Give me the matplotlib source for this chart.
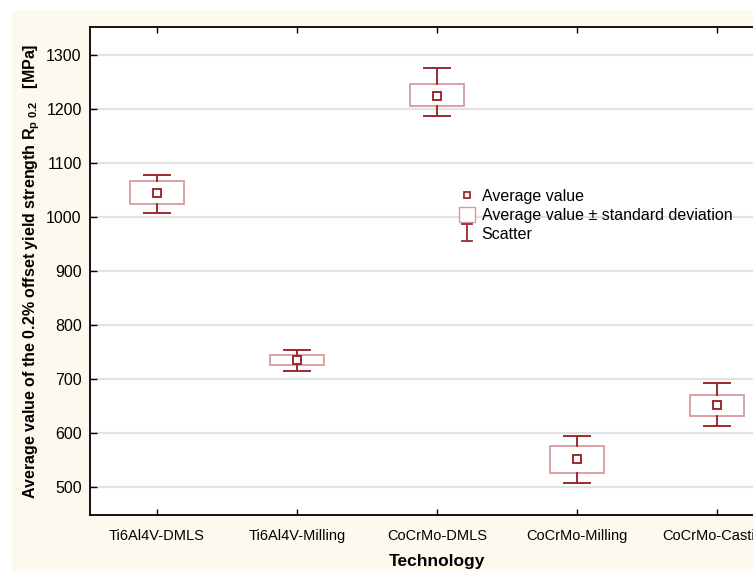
import matplotlib
matplotlib.use("Agg")
import matplotlib.pyplot as plt
from matplotlib.patches import Rectangle
from matplotlib.lines import Line2D
from matplotlib.legend_handler import HandlerBase

# data (MPa)
technologies = ["Ti6Al4V-DMLS", "Ti6Al4V-Milling", "CoCrMo-DMLS", "CoCrMo-Milling", "CoCrMo-Casting"]
mean_vals = [1044, 735, 1225, 551, 651]
sd_low = [1025, 725, 1205, 526, 631]
sd_high = [1067, 745, 1247, 575, 671]
min_vals = [1008, 714, 1188, 508, 613]
max_vals = [1077, 754, 1276, 594, 692]
y_ticks = [500, 600, 700, 800, 900, 1000, 1100, 1200, 1300]

dark_red = "#9c2a30"
light_red = "#d99a9c"
cream = "#fef9ee"

plt.rcParams['font.family'] = ['Liberation Sans', 'DejaVu Sans']
plt.rcParams['mathtext.fontset'] = 'custom'
plt.rcParams['mathtext.rm'] = 'Liberation Sans'
plt.rcParams['mathtext.bf'] = 'Liberation Sans:bold'


class WhiskerHandler(HandlerBase):
    # draws the little "I" symbol used for the scatter entry
    def create_artists(self, legend, orig_handle, xdescent, ydescent, width, height, fontsize, trans):
        cx = width / 2 - xdescent
        top = height + 0.5
        bot = -1.5
        hw = width * 0.3
        arts = [
            Line2D([cx, cx], [bot, top], color=dark_red, lw=1.3),
            Line2D([cx - hw, cx + hw], [top, top], color=dark_red, lw=1.3),
            Line2D([cx - hw, cx + hw], [bot, bot], color=dark_red, lw=1.3),
        ]
        for a in arts:
            a.set_transform(trans)
        return arts


fig = plt.figure(figsize=(7.53, 5.71), dpi=100)
fig.patch.set_facecolor("white")
fig.patches.append(Rectangle((12 / 753, 0), 1, 1 - 10 / 571, transform=fig.transFigure,
                             facecolor=cream, edgecolor="none", zorder=-10))

ax = fig.add_axes([90 / 753, 56 / 571, 694 / 753, 488 / 571])
ax.set_facecolor("white")

box_w = 0.383
cap_w = 0.19
x = list(range(len(technologies)))

for i in x:
    # +- standard deviation box
    ax.add_patch(Rectangle((i - box_w / 2, sd_low[i]), box_w, sd_high[i] - sd_low[i],
                           facecolor="white", edgecolor=light_red, lw=1.3, zorder=3))
    # whiskers (min / max)
    ax.plot([i, i], [sd_high[i], max_vals[i]], color=dark_red, lw=1.4, zorder=3)
    ax.plot([i, i], [min_vals[i], sd_low[i]], color=dark_red, lw=1.4, zorder=3)
    ax.plot([i - cap_w / 2, i + cap_w / 2], [max_vals[i], max_vals[i]], color=dark_red, lw=1.4, zorder=3)
    ax.plot([i - cap_w / 2, i + cap_w / 2], [min_vals[i], min_vals[i]], color=dark_red, lw=1.4, zorder=3)

ax.plot(x, mean_vals, linestyle="none", marker="s", markersize=5.5, markerfacecolor="white",
        markeredgecolor=dark_red, markeredgewidth=1.4, zorder=4)

ax.set_xlim(-0.479, 4.479)
ax.set_ylim(448, 1352)
ax.set_yticks(y_ticks)
ax.set_xticks(x)
ax.set_xticklabels(technologies, fontsize=10.5)
for lab in ax.get_yticklabels():
    lab.set_fontsize(11.5)

ax.grid(axis="y", color="#e2e2e2", lw=1.5)
ax.set_axisbelow(True)
ax.tick_params(axis="x", direction="in", top=True, length=4, width=1, pad=10)
ax.tick_params(axis="y", direction="in", length=5, width=1, pad=6)
for side in ["left", "bottom", "top"]:
    ax.spines[side].set_linewidth(1.3)
ax.spines["right"].set_visible(False)

ax.set_xlabel("Technology", fontsize=12.5, fontweight="bold", labelpad=8)
ax.set_ylabel(r"Average value of the 0.2% offset yield strength R$_{\mathbf{p\ 0.2}}$   [MPa]",
              fontsize=11.5, fontweight="bold", labelpad=3)

h_mean = Line2D([], [], linestyle="none", marker="s", markersize=4.5, markerfacecolor="white",
                markeredgecolor=dark_red, markeredgewidth=1.3)
h_box = Rectangle((0, 0), 1, 1, facecolor="white", edgecolor=light_red, lw=1)
h_scatter = object()
ax.legend([h_mean, h_box, h_scatter],
          ["Average value", "Average value \u00b1 standard deviation", "Scatter"],
          handler_map={object: WhiskerHandler()},
          loc="upper left", bbox_to_anchor=(0.532, 0.669), frameon=False,
          fontsize=11.5, handlelength=1.0, handleheight=1.0, handletextpad=0.4,
          labelspacing=0.2, borderpad=0, borderaxespad=0)

fig.savefig("out.png", dpi=100)
